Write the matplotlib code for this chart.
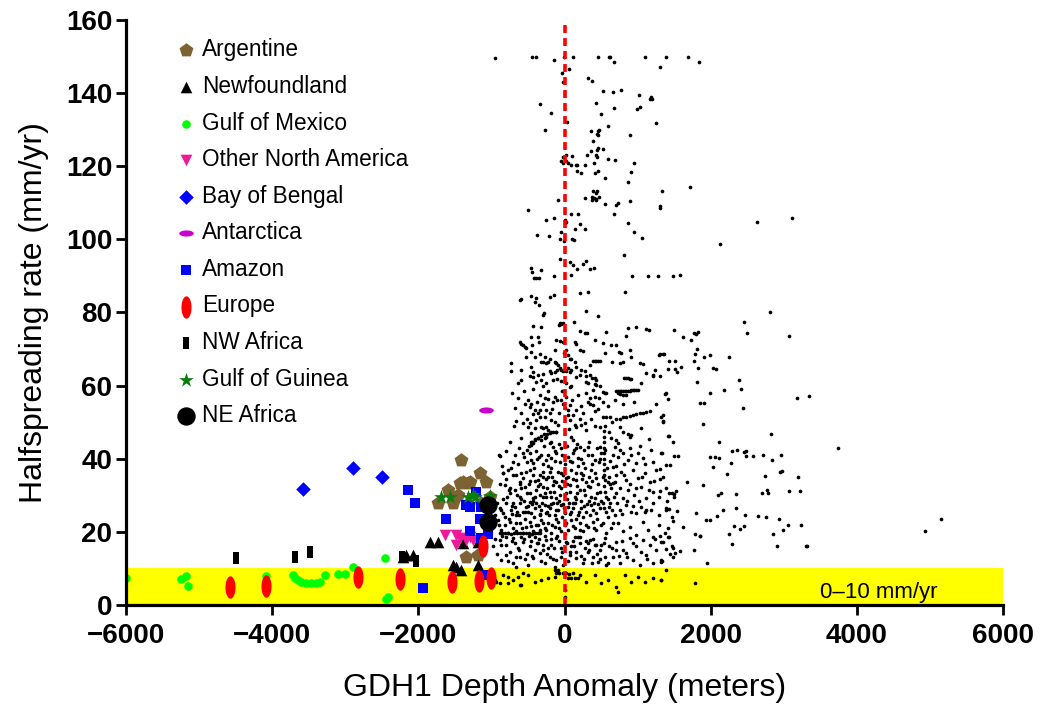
import numpy as np
import matplotlib.pyplot as plt

plt.rcParams['font.family'] = ['Liberation Sans', 'DejaVu Sans']

# ---- ridge data (small black dots): (depth anomaly m, halfspreading mm/yr)
dots_upper = [(-948, 149.7), (-442, 150), (-397, 150), (-141, 149), (-14, 150), (119, 150), (456, 150), (606, 150),
              (625, 149.8), (670, 148.6), (1094, 150), (1382, 150), (1696, 150), (1833, 148.6),
              (1304, 147), (64, 146.6), (-37, 145.4), (-23, 143.1), (319, 144), (379, 143.3), (524, 140.6), (666, 140.2),
              (770, 140.8), (1012, 139.6), (1163, 138.5), (1186, 139), (1190, 138.3),
              (-333, 137), (-192, 134.6), (429, 137.2), (680, 136), (493, 134.3), (985, 135.6), (1035, 136.3), (1245, 131.7),
              (32, 132), (-269, 129.8), (597, 130.9), (365, 129.6), (456, 129.5), (470, 130), (442, 128.8), (456, 128.5),
              (894, 128.6), (383, 127), (356, 124.2), (456, 124.9), (442, 124.3), (524, 124.8), (433, 123), (442, 122.6),
              (301, 123), (-23, 122.6), (14, 123), (96, 122.8), (593, 121.9), (688, 121.7),
              (-45, 121.3), (-23, 120.8), (23, 121.3), (45, 121), (82, 120.3), (160, 120.3), (173, 120.3), (274, 120.3),
              (401, 121), (944, 120.8), (168, 118.7), (219, 118.1), (410, 118.1), (461, 118.7), (557, 116.9), (912, 118.5),
              (866, 115.8), (1714, 114.4), (1327, 113.3), (387, 113.2), (424, 112.6), (447, 113.1), (369, 111.7), (397, 111.2),
              (434, 111.1), (465, 111.5), (379, 110.8), (434, 110.7), (283, 111.4), (-86, 110.8), (889, 110.5), (557, 109.6),
              (707, 109.4), (735, 109.9), (1309, 109.1), (1309, 108.7), (-502, 108), (92, 107), (178, 106.9), (670, 106.9),
              (-251, 105.3), (-141, 105.8), (0, 105.3), (14, 104.8), (4, 104.4), (205, 104.1), (862, 104.6), (2130, 98.8),
              (137, 102.8), (274, 102.8), (944, 102), (-383, 101.1), (-215, 101), (-50, 101.9), (-64, 100), (-4, 99.5),
              (100, 100.2), (133, 99.8), (1058, 100.4), (811, 95.6), (-59, 94.7), (68, 93.7), (114, 92.9), (173, 91.8),
              (251, 93.2), (297, 94.2), (351, 92), (397, 92.2), (-456, 92.1), (-442, 91), (-324, 91.6),
              (-420, 89.3), (-387, 89.4), (-352, 89.4), (-141, 90.1), (82, 90.3), (921, 89.9), (1140, 89.9), (1282, 90),
              (1482, 89.9), (1573, 90.3), (-602, 83.8), (-456, 84.4), (-387, 83.9), (-196, 84.1), (-141, 84.8), (205, 85.3),
              (319, 85.5), (830, 85.7), (2631, 104.8), (3119, 105.8)]

dots_right = [(2818, 80.2), (2458, 77.5), (2494, 74.5), (3078, 73.6), (1902, 67.9), (1984, 68.5), (2248, 67.9),
              (2029, 64.8), (2066, 64.5), (2390, 61.5), (2412, 59.2), (1984, 58.1), (2185, 58.8), (1847, 55.3),
              (1902, 55.3), (2444, 53.9), (3178, 56.6), (3342, 57.1), (1888, 49.5), (2828, 46.8), (3748, 43.0),
              (2111, 44.7), (1988, 40.4), (2056, 40.6), (2111, 40.1), (2289, 42.1), (2353, 42.5), (2462, 41.8),
              (2485, 42.2), (2485, 40.8), (2576, 40.8), (2718, 40.9), (2845, 39.7), (2955, 40.9), (2029, 37.8),
              (2275, 38.9), (2945, 36.3), (2973, 36.6), (2740, 35.4), (3197, 34.9), (1888, 32.9), (2220, 35.8),
              (2103, 30), (2134, 30.6), (2349, 30.4), (2695, 30.6), (2773, 31.5), (2787, 30.6), (3068, 31.2),
              (3219, 31.2), (2166, 26), (2344, 26.4), (1938, 23.2), (1984, 23.2), (2084, 24.3), (2472, 24.5),
              (2650, 24.3), (2750, 24.1), (2932, 23.5), (1847, 18.9), (2257, 19.5), (2316, 21.7), (2403, 20.9),
              (2453, 21.6), (2850, 19.3), (2992, 20.6), (3055, 21.9), (3238, 21.9), (2289, 16.7), (2904, 16.1),
              (3310, 16), (3324, 16), (1947, 11.6), (4929, 20.1), (5148, 23.5),
              (1495, 75.1), (1618, 73.2), (1728, 72.5), (1765, 74.3), (1801, 74.2), (1824, 74.6), (1300, 68.6),
              (1354, 68.6), (1427, 66.6), (1518, 66.6), (1409, 64.6), (1514, 64.5), (1532, 63.7), (1591, 65.1),
              (1300, 62.6), (1783, 68.6), (1815, 70), (1765, 66.8), (1829, 64.8), (1815, 61.1), (1382, 57.9),
              (1418, 56.4), (1345, 52), (1350, 50.2), (1436, 46.3), (1482, 44.5),
              (1336, 41.7), (1500, 40.8), (1550, 40.7), (1441, 38.2), (1300, 37.1), (1304, 34.5), (1669, 33.6),
              (1300, 31.2), (1423, 30.7), (1468, 30.7), (1495, 30.4), (1528, 31.3), (1405, 28.4), (1491, 29.5),
              (1382, 25.9), (1423, 26.3), (1541, 25.6), (1792, 25.1), (1464, 24.2), (1482, 22.9), (1618, 21.3),
              (1418, 21.1), (1414, 18.7), (1427, 18.7), (1300, 18.9), (1313, 17.3), (1783, 19.5), (1851, 18.9),
              (1382, 15.2), (1473, 16), (1487, 15.5), (1441, 14), (1482, 13.1), (1514, 14.3), (1577, 14.8),
              (1336, 12), (1313, 11.8), (1774, 15), (1382, 9.7), (1322, 6.8), (1783, 6.1)]

dots_mid = [(-616, 83.4), (-411, 82.9), (-351, 82.1), (-287, 79.8), (-297, 79.3), (287, 80.5), (456, 79.1),
            (-69, 77.0), (-46, 76.8), (-23, 77.2), (-78, 76.6), (127, 77.3), (-433, 76.4), (-319, 76.1),
            (214, 75.0), (273, 74.5), (305, 74.3), (570, 74.6), (866, 75.8), (971, 76.1), (1117, 75.5), (1153, 75.2),
            (843, 73.6), (-456, 73.2), (-365, 73.4), (-351, 72.0), (-616, 72.0), (-593, 71.5), (-570, 71.1),
            (-547, 70.6), (-525, 70.4), (-443, 71.2), (-114, 72.5), (-69, 72.3), (-23, 72.0), (137, 72.0), (159, 71.5),
            (410, 72.5), (524, 71.7), (638, 71.1), (707, 71.1), (547, 69.0), (743, 69.1), (775, 68.8), (889, 69.7),
            (912, 67.7), (1026, 66.3), (1071, 65.8), (1299, 68.5), (1345, 68.6), (1231, 64.4), (1208, 62.9),
            (1108, 63.5), (798, 66.5), (752, 66.1), (652, 66.5), (387, 66.7), (410, 66.7), (433, 66.8), (456, 66.8),
            (479, 66.8), (342, 65.6), (273, 64.0), (228, 64.2), (159, 65.2), (137, 66.5), (45, 68.4), (68, 67.2),
            (91, 67.4), (205, 69.7), (251, 69.5), (13, 69.7), (-9, 68.8), (-137, 66.5), (-114, 66.1), (-91, 65.6),
            (-69, 64.7), (-46, 64.2), (-23, 64.1), (0, 64.4), (23, 64.0), (45, 64.7), (68, 63.8), (91, 64.2),
            (-105, 64.2), (-137, 63.8), (-183, 63.5), (-205, 64.1), (-251, 66.1), (-228, 66.5), (-297, 66.5),
            (-319, 66.5), (-274, 67.9), (-205, 67.4), (-137, 69.7), (-342, 68.6), (-456, 69.3), (-411, 67.9),
            (-525, 67.7), (-730, 66.3), (-739, 64.0), (-593, 64.2), (-456, 65.2), (-433, 63.8), (-365, 62.9),
            (-297, 63.3), (-319, 61.5), (-388, 61.1), (-433, 62.4), (-479, 62.6), (-593, 61.5), (-639, 60.6),
            (-433, 59.2), (-297, 59.9), (-251, 60.6), (-160, 61.5), (-105, 61.7), (-46, 61.3), (13, 60.8),
            (68, 59.5), (91, 59.9), (159, 62.4), (205, 62.9), (296, 62.6), (342, 62.9), (378, 62.2), (410, 62.0),
            (433, 61.5), (296, 61.1), (319, 60.8), (410, 60.4), (433, 60.1), (479, 59.9), (524, 58.3), (547, 58.0),
            (570, 57.9), (387, 58.8), (820, 62.1), (843, 62.0), (866, 62.0), (889, 61.7), (912, 61.7), (1049, 60.6),
            (1208, 62.6), (1368, 57.7), (707, 58.6), (729, 58.6), (752, 58.6), (775, 58.6), (798, 58.6), (821, 58.6),
            (843, 58.6), (866, 58.6), (889, 58.6), (912, 58.7), (935, 58.7), (957, 58.8), (980, 58.8), (1003, 58.8),
            (729, 57.9), (752, 57.6), (798, 57.4), (843, 57.4), (697, 56.0), (524, 55.6), (410, 56.9), (342, 56.5),
            (319, 55.6), (342, 55.1), (387, 54.7), (456, 53.6), (228, 54.4), (159, 53.3), (68, 54.7), (45, 53.3),
            (0, 54.0), (-23, 55.0), (-46, 56.0), (-105, 56.0), (-160, 55.6), (-228, 56.2), (-274, 56.5), (-297, 55.0),
            (-342, 53.3), (-365, 52.4), (-411, 53.3), (-456, 55.0), (-479, 54.2), (-433, 52.2), (-547, 55.1),
            (45, 51.9), (68, 50.6), (114, 51.9), (205, 51.0), (228, 49.2), (137, 49.2), (159, 48.7), (273, 49.8),
            (296, 47.8), (410, 48.9), (479, 48.7), (-205, 52.4), (-251, 53.3), (-274, 51.5), (-342, 51.5),
            (-388, 50.6), (-479, 49.7), (-502, 48.7), (-570, 49.9), (-661, 50.3), (-693, 48.9), (-593, 45.8),
            (-411, 48.5), (-319, 48.6), (-251, 48.7), (-228, 47.8), (-183, 47.4), (-114, 47.4), (-91, 49.2),
            (-137, 50.1), (-183, 50.6), (1322, 51.5), (1345, 50.1), (1422, 46.3),
            (752, 48.7), (798, 47.4), (866, 46.9), (889, 46.0), (912, 46.5), (707, 45.1), (684, 43.3), (729, 44.2),
            (479, 43.3), (319, 43.3), (205, 43.3), (159, 42.8), (-251, 46.0), (-274, 45.6), (-319, 45.1),
            (-365, 45.6), (-411, 45.1), (-456, 44.6), (-456, 43.7), (-433, 44.2), (-205, 44.2), (-160, 43.3),
            (-46, 42.8), (91, 46.0), (114, 45.1), (1026, 43.5), (638, 45.6), (615, 47.4)]

# dotted tracks that form short lines in the cloud
dots_tracks = [(520, 51.3), (570, 51.4), (620, 51.5), (707, 50.8), (752, 51.0), (798, 51.3), (843, 51.5),
               (889, 51.7), (935, 52.0), (980, 52.2), (1026, 52.4), (1071, 52.6), (1117, 52.8), (1163, 53.1),
               (548, 49), (545, 47.5), (543, 46), (541, 44.5), (540, 43), (540, 41.5), (540, 40), (541, 38.5),
               (542, 37), (545, 35.5), (560, 34.2), (590, 33.5), (620, 33.2), (657, 33.4),
               (-480, 43.5), (-440, 44.5), (-400, 45.3), (-360, 45.8), (-320, 46.3), (-280, 46.7), (-240, 46.9),
               (-200, 47.1), (-160, 47.3), (-120, 47.4),
               (-890, 19.6), (-850, 19.6), (-810, 19.7), (-770, 19.6), (-730, 19.5), (-690, 19.6), (-650, 19.6),
               (-610, 19.6), (-570, 19.7), (-530, 19.6), (-490, 19.6), (-450, 19.5), (-410, 19.6), (-370, 19.6),
               (-330, 19.6),
               (-114, 8.7), (-70, 8.7), (-25, 8.8), (20, 8.7), (65, 8.6), (110, 8.7), (45, 7.3), (90, 7.3),
               (137, 7.3), (182, 7.3), (-137, 10.5), (-130, 9.5)]

dots_low = [(-889, 40.8), (-707, 39.2), (-570, 41.7), (-456, 39.7), (-433, 38.8), (-319, 41.0), (-251, 39.7),
            (-183, 40.1), (-114, 41.5), (-69, 39.2), (45, 40.6), (114, 41.5), (182, 40.1), (251, 38.8), (319, 41.0),
            (410, 39.7), (501, 41.5), (661, 41.0), (729, 40.6), (798, 41.5), (866, 39.7), (912, 41.0), (980, 38.8),
            (1071, 40.1), (1208, 39.2), (1322, 41.5), (1391, 38.3),
            (-844, 36.0), (-730, 37.4), (-616, 33.7), (-570, 34.6), (-479, 36.9), (-433, 35.6), (-365, 34.2),
            (-297, 36.5), (-228, 35.1), (-183, 37.4), (-114, 33.7), (-46, 36.0), (23, 34.6), (91, 36.9), (159, 34.2),
            (228, 36.0), (296, 33.7), (365, 36.9), (433, 34.6), (661, 37.8), (707, 35.6), (775, 36.5), (843, 34.2),
            (935, 36.9), (1003, 34.6), (1094, 36.0), (1163, 33.7), (1254, 36.9), (1345, 35.1),
            (-821, 32.8), (-753, 30.5), (-684, 31.5), (-616, 29.6), (-547, 32.4), (-479, 30.5), (-433, 29.2),
            (-388, 31.5), (-342, 30.1), (-297, 32.4), (-251, 29.6), (-205, 31.0), (-160, 32.8), (-114, 29.2),
            (-46, 31.9), (23, 30.5), (68, 32.8), (137, 29.6), (205, 31.5), (273, 30.1), (342, 32.4), (410, 29.2),
            (479, 31.0), (570, 29.6), (638, 31.9), (707, 30.5), (798, 29.2), (866, 31.5), (957, 30.1), (1049, 32.4),
            (1117, 29.2), (1208, 31.0), (1299, 29.6), (1391, 31.9),
            (-958, 24.6), (-889, 26.4), (-844, 25.1), (-798, 27.8), (-730, 26.0), (-684, 26.9), (-661, 24.6),
            (-616, 27.8), (-570, 25.5), (-525, 26.9), (-479, 28.3), (-456, 25.1), (-411, 26.4), (-388, 27.8),
            (-342, 24.6), (-319, 26.0), (-274, 27.4), (-251, 25.1), (-205, 26.4), (-160, 27.8), (-137, 24.6),
            (-91, 26.0), (-46, 27.4), (0, 25.1), (45, 26.9), (91, 25.5), (137, 27.8), (182, 24.6), (228, 26.4),
            (296, 25.5), (365, 27.4), (433, 25.1), (479, 26.4), (524, 27.8), (570, 25.5), (615, 26.9), (684, 24.6),
            (752, 26.0), (843, 27.4), (912, 25.5), (980, 25.1), (1049, 26.9), (1117, 26.0), (1208, 27.8),
            (1299, 24.6), (1391, 26.4),
            (-912, 23.2), (-867, 20.5), (-821, 21.9), (-775, 19.6), (-753, 22.8), (-707, 21.0), (-661, 20.1),
            (-616, 22.3), (-570, 19.6), (-525, 21.4), (-479, 22.8), (-433, 20.1), (-388, 21.9), (-342, 20.5),
            (-319, 23.2), (-274, 21.0), (-228, 22.3), (-183, 19.6), (-137, 21.4), (-91, 22.8), (-46, 20.1),
            (0, 21.9), (45, 20.5), (91, 23.2), (137, 21.0), (205, 22.3), (251, 20.1), (319, 21.4), (387, 22.8),
            (433, 20.5), (501, 21.9), (570, 19.6), (638, 21.0), (729, 22.3), (798, 20.1), (889, 21.4), (980, 19.1),
            (1071, 22.8), (1140, 20.5), (1208, 18.7), (1299, 21.9), (1368, 19.6),
            (-981, 16.0), (-889, 17.8), (-798, 16.4), (-707, 18.2), (-639, 15.5), (-570, 17.3), (-479, 16.0),
            (-411, 18.7), (-365, 16.9), (-297, 15.0), (-251, 17.8), (-183, 16.4), (-114, 18.2), (-46, 15.5),
            (23, 17.3), (91, 16.0), (137, 18.7), (205, 16.9), (273, 15.5), (342, 17.8), (410, 16.4), (479, 15.0),
            (547, 18.2), (615, 16.0), (707, 17.3), (798, 15.0), (889, 18.2), (980, 16.0), (1071, 17.8), (1163, 16.4),
            (1254, 15.0), (1345, 17.3),
            (-867, 12.3), (-798, 13.7), (-707, 11.4), (-616, 13.2), (-502, 10.9), (-433, 12.8), (-342, 14.1),
            (-274, 11.4), (-205, 13.2), (-114, 12.3), (-23, 10.9), (68, 13.7), (159, 12.8), (251, 11.4), (319, 14.6),
            (387, 13.2), (456, 11.8), (570, 10.9), (661, 13.2), (752, 11.4), (843, 14.1), (935, 12.3), (1026, 10.9),
            (1117, 13.7), (1208, 11.4), (1322, 12.3),
            (-935, 6.4), (-844, 8.2), (-775, 5.9), (-707, 6.8), (-639, 7.7), (-593, 5.5), (-502, 8.2), (-411, 6.4),
            (-319, 6.8), (-228, 7.3), (-137, 7.7), (-91, 9.6), (205, 8.2), (296, 6.4), (410, 8.2), (501, 5.9),
            (593, 6.8), (707, 5.0), (821, 8.2), (912, 6.4), (1003, 7.7), (1094, 6.4), (1208, 7.3), (1322, 6.8),
            (729, 3.6), (0, 4.1), (0, 2.3), (-958, 6.8), (-889, 6.0), (-780, 7.7), (-661, 10.5), (-570, 8.7),
            (-616, 5.5), (-903, 41), (-844, 36)]

dots_core = [(-860, 38), (-780, 37), (-700, 35.5), (-640, 38.5), (-590, 36), (-520, 39), (-470, 34), (-420, 37.5),
             (-380, 40), (-340, 35.5), (-300, 38.5), (-260, 34.5), (-220, 38), (-170, 35), (-130, 39.5), (-90, 36.5),
             (-40, 34), (10, 38.5), (50, 35), (100, 39), (150, 36), (190, 38), (240, 34.5), (280, 37.5), (330, 35),
             (380, 38.5), (420, 36), (470, 39), (520, 35), (580, 37.5),
             (-840, 29), (-760, 31.5), (-710, 28), (-650, 30), (-600, 32), (-560, 28.5), (-510, 30.5), (-450, 27.5),
             (-400, 29.5), (-360, 32.5), (-310, 28), (-270, 30.5), (-230, 27), (-190, 29.5), (-150, 31), (-100, 28),
             (-60, 30), (-20, 27.5), (30, 29), (80, 31), (120, 28), (170, 30.5), (220, 28.5), (260, 31.5), (310, 27.5),
             (360, 29.5), (400, 28), (450, 30.5), (500, 28.5), (560, 31), (620, 28), (680, 29.5),
             (-900, 22), (-820, 24), (-760, 23.5), (-720, 25), (-670, 22.5), (-620, 24.5), (-580, 21), (-540, 23.5),
             (-500, 25.5), (-460, 21.5), (-420, 24), (-370, 22), (-330, 25), (-290, 22.5), (-250, 20.5), (-210, 24.5),
             (-170, 22), (-120, 23.5), (-80, 21), (-30, 24), (20, 22.5), (70, 25), (110, 21.5), (160, 23.5),
             (210, 20.5), (250, 24), (300, 22), (350, 24.5), (400, 21), (450, 23.5), (520, 22.5), (600, 24),
             (660, 22.5),
             (-950, 18), (-870, 16.5), (-800, 18.5), (-740, 14.5), (-680, 17), (-620, 15), (-560, 18), (-510, 14),
             (-460, 17.5), (-400, 15), (-350, 18), (-300, 16.5), (-240, 14), (-190, 18), (-140, 15.5), (-80, 17.5),
             (-30, 14.5), (30, 17), (80, 14.5), (130, 16), (180, 18.5), (230, 13.5), (290, 17.5), (340, 15),
             (390, 18), (450, 14), (500, 16.5), (560, 13), (650, 15.5), (740, 13.5)]

dots_core2 = [(-800, 42), (-740, 44.5), (-680, 41), (-620, 43), (-560, 40.5), (-510, 42.5), (-470, 41.5), (-390, 42),
              (-350, 40.5), (-280, 43.5), (-230, 41), (-180, 44.5), (-130, 42), (-80, 44), (-30, 41), (30, 43.5),
              (80, 39.5), (130, 42.5), (170, 44), (230, 40), (270, 42.5), (340, 44.5), (380, 41), (440, 43), (480, 40),
              (560, 42.5), (620, 39.5), (700, 38), (760, 42.5), (820, 38.5), (900, 43), (1000, 41.5), (1100, 38.5),
              (1180, 42.5),
              (-880, 33), (-800, 34.5), (-740, 32), (-660, 35.5), (-610, 33), (-530, 36.5), (-490, 33), (-410, 34),
              (-330, 33), (-290, 35), (-240, 32), (-200, 36.5), (-140, 34), (-70, 32.5), (-20, 35.5), (40, 33),
              (110, 34.5), (170, 32.5), (250, 35.5), (320, 32.5), (370, 34), (460, 33), (540, 32.5), (610, 35),
              (690, 33.5), (760, 32), (820, 35.5), (900, 33), (980, 32), (1060, 35), (1150, 31.5), (1230, 34),
              (-930, 28), (-870, 26), (-790, 29.5), (-720, 27), (-650, 25.5), (-590, 29), (-540, 25.5), (-500, 27),
              (-430, 28.5), (-350, 27), (-290, 29.5), (-240, 25.5), (-180, 27.5), (-120, 26), (-70, 28.5), (-10, 26.5),
              (60, 28), (110, 26.5), (160, 29), (200, 25.5), (270, 27), (330, 28.5), (390, 26), (460, 27.5),
              (540, 26.5), (590, 29), (650, 26), (720, 28), (780, 25), (860, 28.5), (940, 27), (1020, 28.5),
              (1100, 25.5), (1180, 26),
              (-920, 14), (-850, 19), (-780, 12), (-720, 17.5), (-660, 13), (-600, 18.5), (-540, 12.5), (-490, 19),
              (-440, 13.5), (-380, 17), (-320, 12), (-270, 19), (-220, 15.5), (-160, 12.5), (-100, 19), (-50, 13),
              (10, 19.5), (50, 12), (110, 17.5), (160, 14.5), (210, 18.5), (270, 12.5), (320, 17), (370, 11.5),
              (430, 16.5), (480, 12.5), (540, 17), (600, 11.5), (700, 15), (780, 17.5), (860, 13), (940, 17),
              (1040, 14.5), (1130, 12.5), (1240, 18),
              (-720, 58), (-680, 54), (-640, 56.5), (-600, 52.5), (-560, 58.5), (-520, 51), (-500, 56), (-460, 47),
              (-380, 55.5), (-330, 57.5), (-300, 48.5), (-220, 58.5), (-170, 53.5), (-130, 57), (-80, 52.5),
              (-40, 58.5), (20, 57), (60, 48), (100, 56), (180, 57.5), (250, 52.5), (300, 58), (360, 51), (420, 53),
              (470, 56.5), (600, 54.5), (650, 50), (800, 55), (950, 55.5), (1050, 48.5), (1150, 45.5), (1250, 55)]

# ---- margin groups
argentine_x = [-1413, -1163, -1071, -1436, -1391, -1323, -1300, -1596, -1460, -1733, -1528, -1140, -1026, -1345, -1186]
argentine_y = [39.7, 36.0, 33.7, 33.3, 33.7, 33.3, 33.7, 31.5, 30.1, 27.8, 27.8, 27.8, 29.6, 13.2, 13.7]
newf_x = [-1847, -1733, -2212, -2166, -2075, -1528, -1482, -1413, -1391, -1186, -1186]
newf_y = [17.3, 17.3, 13.2, 13.7, 13.7, 10.9, 10.5, 9.6, 16.9, 10.9, 17.3]
gom_x = [-5996, -5244, -5175, -5153, -4081, -3717, -3694, -3648, -3602, -3534, -3465, -3397, -3352, -3283,
         -3101, -3010, -2896, -2462, -2449, -2417]
gom_y = [7.3, 7.0, 7.9, 5.3, 7.9, 8.2, 7.3, 6.8, 6.4, 6.1, 6.1, 6.1, 6.4, 8.2, 8.5, 8.5, 10.3, 12.8, 1.6, 2.1]
ona_x = [-1642, -1482, -1436, -1300, -1254, -1482, -1345]
ona_y = [19.1, 19.1, 18.2, 18.7, 17.8, 16.4, 17.8]
bengal_x = [-3580, -2896, -2499]
bengal_y = [31.6, 37.6, 35.1]
antarctica_x = [-1071]
antarctica_y = [53.3]
amazon_x = [-2143, -2052, -1619, -1208, -1345, -1300, -1140, -1163, -1300, -1140, -1049, -1938, -1071]
amazon_y = [31.5, 28.0, 23.5, 31.0, 27.4, 26.9, 26.9, 23.5, 20.1, 18.2, 19.3, 4.7, 8.2]
europe_x = [-4573, -4081, -2828, -2248, -1541, -1172, -1012, -1117]
europe_y = [5.0, 5.3, 7.7, 7.0, 6.4, 6.6, 7.5, 16.1]
nwafrica_x = [-4491, -3694, -3488, -2221, -2038]
nwafrica_y = [12.9, 13.2, 14.4, 13.2, 12.0]
guinea_x = [-1687, -1573, -1323, -1254, -1231, -1026]
guinea_y = [29.5, 29.5, 29.6, 30.1, 29.5, 29.8]
neafrica_x = [-1049, -1049]
neafrica_y = [27.4, 22.8]

t = np.linspace(0, 2 * np.pi, 50)
ell_tall = np.column_stack([0.45 * np.cos(t), np.sin(t)])
ell_wide = np.column_stack([np.cos(t), 0.42 * np.sin(t)])
bar_tall = [(-0.42, -1), (0.42, -1), (0.42, 1), (-0.42, 1), (-0.42, -1)]

fig = plt.figure(figsize=(10.42, 7.08), dpi=100)
ax = fig.add_axes([0.121, 0.1455, 0.8416, 0.8263])

ax.axhspan(0, 10, color='#ffff00', zorder=0, lw=0)

dots = np.array(dots_upper + dots_right + dots_mid + dots_tracks + dots_low + dots_core + dots_core2)
ax.scatter(dots[:, 0], dots[:, 1], s=7, c='black', lw=0, zorder=2)

ax.axvline(0, color='#ff0000', lw=2.6, ls=(0, (2.2, 1.4)), zorder=3)

ax.scatter(argentine_x, argentine_y, marker='p', s=110, c='#7d6233', lw=0, zorder=4, label='Argentine')
ax.scatter(newf_x, newf_y, marker='^', s=70, c='black', lw=0, zorder=4, label='Newfoundland')
ax.scatter(gom_x, gom_y, marker='o', s=38, c='#00ff00', lw=0, zorder=4, label='Gulf of Mexico')
ax.scatter(ona_x, ona_y, marker='v', s=70, c='#f0189a', lw=0, zorder=4, label='Other North America')
ax.scatter(bengal_x, bengal_y, marker='D', s=55, c='#0000ff', lw=0, zorder=4, label='Bay of Bengal')
ax.scatter(antarctica_x, antarctica_y, marker=ell_wide, s=110, c='#cc00cc', lw=0, zorder=4, label='Antarctica')
ax.scatter(amazon_x, amazon_y, marker='s', s=62, c='#0000ff', lw=0, zorder=4, label='Amazon')
ax.scatter(europe_x, europe_y, marker=ell_tall, s=260, c='#ff0000', lw=0, zorder=4, label='Europe')
ax.scatter(nwafrica_x, nwafrica_y, marker=bar_tall, s=75, c='black', lw=0, zorder=4, label='NW Africa')
ax.scatter(guinea_x, guinea_y, marker='*', s=120, c='#0a7d0a', lw=0, zorder=4, label='Gulf of Guinea')
ax.scatter(neafrica_x, neafrica_y, marker='o', s=175, c='black', lw=0, zorder=4, label='NE Africa')

ax.text(4300, 3.5, '0\u201310 mm/yr', fontsize=16, ha='center', va='center')

ax.set_xlim(-6000, 6000)
ax.set_ylim(0, 160)
ax.set_xticks(range(-6000, 6001, 2000))
ax.set_yticks(range(0, 161, 20))
for s in ['top', 'right']:
    ax.spines[s].set_visible(False)
for s in ['left', 'bottom']:
    ax.spines[s].set_linewidth(2.3)
    ax.spines[s].set_zorder(5)
ax.tick_params(direction='out', length=7, width=2, labelsize=20)
ax.tick_params(axis='x', pad=6)
ax.tick_params(axis='y', pad=3)
for lab in ax.get_xticklabels() + ax.get_yticklabels():
    lab.set_fontweight('bold')

ax.set_xlabel('GDH1 Depth Anomaly (meters)', fontsize=23, labelpad=17)
ax.set_ylabel('Halfspreading rate (mm/yr)', fontsize=23, labelpad=12)

ax.legend(loc='upper left', bbox_to_anchor=(0.0477, 0.984), frameon=False, fontsize=16.3,
          labelspacing=0.60, handlelength=0.8, handletextpad=0.3, borderaxespad=0, scatterpoints=1)

fig.savefig('out.png', dpi=100)
